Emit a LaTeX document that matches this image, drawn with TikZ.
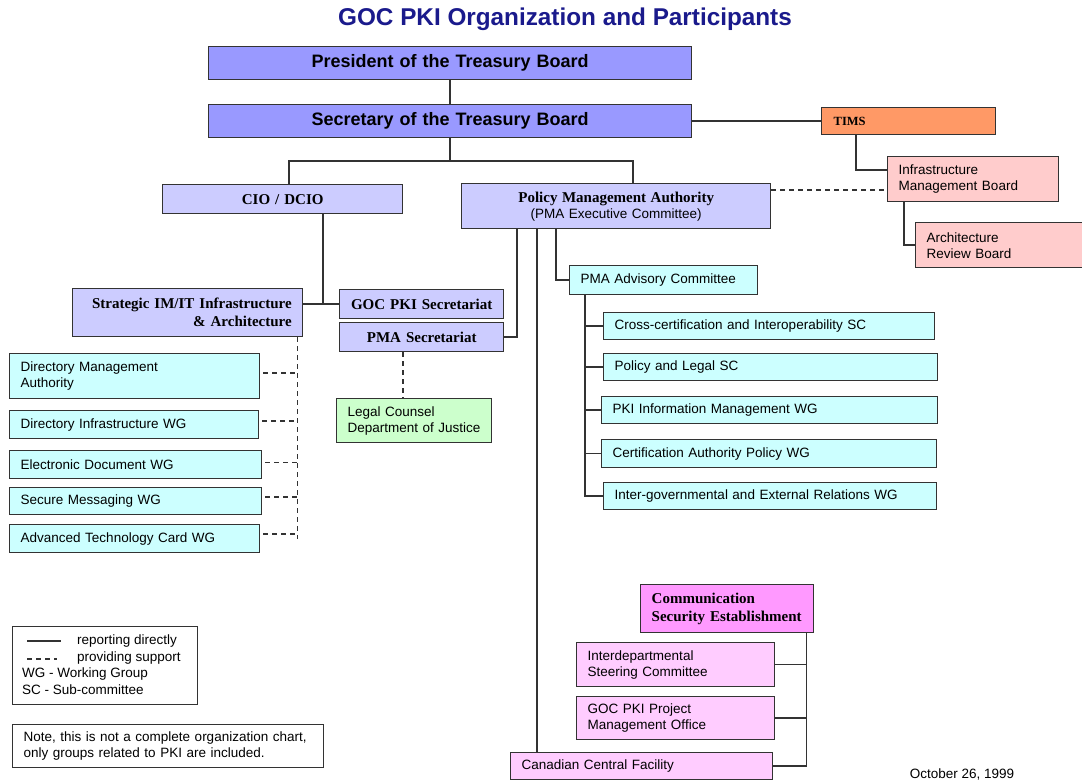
\documentclass[tikz,border=0pt]{standalone}
\usepackage{fontspec}
\setmainfont{Liberation Sans}
\newfontfamily\tnr{Liberation Serif}
\usetikzlibrary{calc}
\definecolor{presc}{HTML}{9999FF}
\definecolor{lav}{HTML}{CCCCFF}
\definecolor{cyanb}{HTML}{CCFFFF}
\definecolor{timsc}{HTML}{FF9966}
\definecolor{pinkr}{HTML}{FFCCCC}
\definecolor{greenb}{HTML}{CCFFCC}
\definecolor{csec}{HTML}{FF99FF}
\definecolor{pinkv}{HTML}{FFCCFF}
\definecolor{navyt}{HTML}{1A1A8C}
\definecolor{lnc}{HTML}{333333}
\tikzset{
  bx/.style={draw=lnc, line width=1.4pt, inner xsep=11pt, inner ysep=0pt, anchor=north west,
    font=\fontsize{13.5}{16}\selectfont, align=left},
  sb/.style={font=\tnr\bfseries\fontsize{15}{18}\selectfont},
  rel/.style={draw=lnc, line width=1.5pt},
  sup/.style={rel, dash pattern=on 5pt off 4pt},
  supb/.style={sup, line width=2.2pt},
  plain/.style={inner sep=0pt, font=\fontsize{13.5}{16}\selectfont}
}
\begin{document}
\begin{tikzpicture}[x=1pt,y=-1pt]
\fill[white] (0,0) rectangle (1082,780);
\useasboundingbox (0,0) rectangle (1082,780);

\node[font=\bfseries\fontsize{24.3}{28}\selectfont, text=navyt] (title) at (565,19) {GOC PKI Organization and Participants};

% top chain
\node[bx, fill=presc, minimum height=33pt, text width=461pt, align=center, font=\bfseries\fontsize{18}{21}\selectfont] (pres) at (208,46) {President of the Treasury Board};
\node[bx, fill=presc, minimum height=33pt, text width=461pt, align=center, font=\bfseries\fontsize{18}{21}\selectfont] (sec) at (208,104) {Secretary of the Treasury Board};
\node[bx, fill=timsc, minimum height=27pt, text width=150pt, inner xsep=12pt, font=\tnr\bfseries\fontsize{12.5}{15}\selectfont] (tims) at (821,107) {TIMS};
\node[bx, fill=pinkr, minimum height=45pt, text width=149pt] (imb) at (887,156) {Infrastructure\\Management Board};
\node[bx, fill=pinkr, minimum height=45pt, text width=148pt] (arb) at (915,222) {Architecture\\Review Board};

\node[bx, sb, fill=lav, minimum height=29pt, text width=218pt, align=center] (cio) at (162,184) {CIO / DCIO};
\node[bx, fill=lav, minimum height=45pt, text width=287pt, align=center] (pma) at (461,183)
  {\tnr\bfseries\fontsize{15}{18}\selectfont Policy Management Authority\\\normalfont\fontsize{13.5}{16}\selectfont (PMA Executive Committee)};

\node[bx, sb, fill=lav, minimum height=48pt, text width=208pt, align=right] (strat) at (72,288) {Strategic IM/IT Infrastructure\\\& Architecture};
\node[bx, sb, fill=lav, minimum height=29pt, text width=142pt, align=center] (gocsec) at (339,289) {GOC PKI Secretariat};
\node[bx, sb, fill=lav, minimum height=29pt, text width=142pt, align=center] (pmasec) at (339,322) {PMA Secretariat};

\node[bx, fill=cyanb, minimum height=29pt, text width=166pt] (adv) at (569,265) {PMA Advisory Committee};
\node[bx, fill=cyanb, minimum height=27pt, text width=309pt] (sc1) at (603,312) {Cross-certification and Interoperability SC};
\node[bx, fill=cyanb, minimum height=27pt, text width=312pt] (sc2) at (603,353) {Policy and Legal SC};
\node[bx, fill=cyanb, minimum height=27pt, text width=314pt] (sc3) at (601,396) {PKI Information Management WG};
\node[bx, fill=cyanb, minimum height=28pt, text width=313pt] (sc4) at (601,439) {Certification Authority Policy WG};
\node[bx, fill=cyanb, minimum height=27pt, text width=311pt] (sc5) at (603,482) {Inter-governmental and External Relations WG};

\node[bx, fill=cyanb, minimum height=45pt, text width=228pt] (dma) at (9,353) {Directory Management\\Authority};
\node[bx, fill=cyanb, minimum height=28pt, text width=227pt] (diwg) at (9,410) {Directory Infrastructure WG};
\node[bx, fill=cyanb, minimum height=28pt, text width=230pt] (edwg) at (9,450) {Electronic Document WG};
\node[bx, fill=cyanb, minimum height=27pt, text width=230pt] (smwg) at (9,487) {Secure Messaging WG};
\node[bx, fill=cyanb, minimum height=28pt, text width=228pt] (atc) at (9,524) {Advanced Technology Card WG};

\node[bx, fill=greenb, minimum height=44pt, text width=133pt] (legal) at (336,398) {Legal Counsel\\Department of Justice};

\node[bx, sb, fill=csec, minimum height=48pt, text width=151pt] (cse) at (640,584) {Communication\\Security Establishment};
\node[bx, fill=pinkv, minimum height=44pt, text width=176pt] (isc) at (576,642) {Interdepartmental\\Steering Committee};
\node[bx, fill=pinkv, minimum height=43pt, text width=176pt] (pmo) at (576,696) {GOC PKI Project\\Management Office};
\node[bx, fill=pinkv, minimum height=27pt, text width=240pt] (ccf) at (510,752) {Canadian Central Facility};

% legend and note
\node[draw=lnc, line width=1.4pt, inner sep=0pt, anchor=north west, minimum width=185pt, minimum height=78pt] (legend) at (12,626) {};
\draw[rel] ($(legend.north west)+(15,15)$) -- ++(34,0);
\draw[sup] ($(legend.north west)+(15,33)$) -- ++(30,0);
\node[plain, anchor=west] (lg1) at (77,641) {reporting directly};
\node[plain, anchor=west] (lg2) at (77,658) {providing support};
\node[plain, anchor=west] (lg3) at (22,674) {WG - Working Group};
\node[plain, anchor=west] (lg4) at (22,690) {SC - Sub-committee};
\node[bx, fill=white, minimum height=43pt, text width=289pt] (note) at (12,724) {Note, this is not a complete organization chart,\\only groups related to PKI are included.};

\node[plain] (date) at (962,774) {October 26, 1999};

% connectors
\draw[rel] (pres.south) -- (sec.north);
\coordinate (barL) at (289,161);
\coordinate (barR) at (633,161);
\draw[rel] (sec.south) -- (sec.south |- barL);
\draw[rel] (cio.north -| barL) -- (barL) -- (barR) -- (pma.north -| barR);
\draw[rel] (sec.east) -- (tims.west);
\draw[rel] ($(tims.south west)+(35,0)$) |- ($(imb.north west)+(0,14)$);
\draw[rel] ($(imb.south west)+(17,0)$) |- (arb.west);
\draw[sup] ($(pma.north east)+(0,7)$) -- ($(imb.north west)+(0,34)$);
\draw[rel] ($(cio.south west)+(161,0)$) |- (gocsec.west);
\draw[rel] (gocsec.west) -- (gocsec.west -| strat.east);
\draw[rel] ($(pma.south west)+(56,0)$) |- (pmasec.east);
\coordinate (pv) at ($(pma.south west)+(76,0)$);
\draw[rel] (pv) -- (pv |- ccf.north);
\draw[rel] ($(pma.south west)+(95,0)$) |- (adv.west);
\coordinate (at) at ($(adv.south west)+(16,0)$);
\draw[rel] (at) |- (sc5.west);
\foreach \n in {sc1,sc2,sc3,sc4} \draw[rel] (\n.west) -- (\n.west -| at);

\coordinate (st) at ($(strat.south east)+(-6,0)$);
\draw[sup] (st) -- (st |- atc.east);
\foreach \n/\d in {dma/-3,diwg/-4,atc/-5}
  \draw[supb] ($(\n.east)+(3,\d)$) coordinate (t) -- (t -| st);
\foreach \n/\d in {edwg/-2,smwg/-4}
  \draw[sup] ($(\n.east)+(3,\d)$) coordinate (t) -- (t -| st);
\draw[sup] ($(pmasec.south west)+(64,0)$) coordinate (lq) -- (lq |- legal.north);

\coordinate (ct) at ($(cse.south east)+(-8,0)$);
\draw[rel] (ct) |- (ccf.east);
\draw[rel] (isc.east) -- (isc.east -| ct);
\draw[rel] (pmo.east) -- (pmo.east -| ct);
\end{tikzpicture}
\end{document}
